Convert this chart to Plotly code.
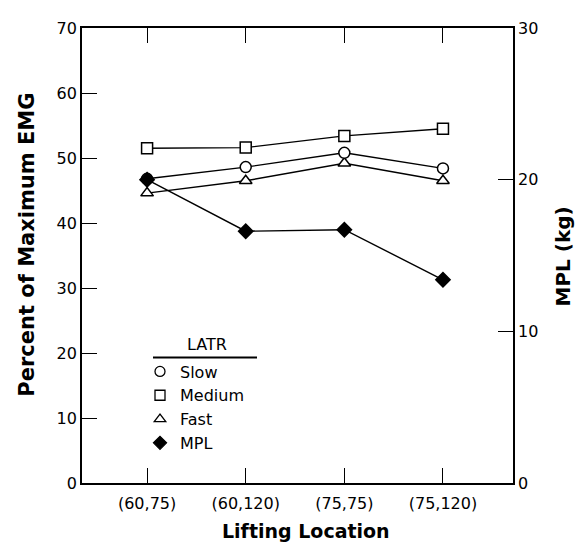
import plotly.graph_objects as go

locations = ["(60,75)", "(60,120)", "(75,75)", "(75,120)"]
slow = [46.8, 48.6, 50.8, 48.4]
medium = [51.5, 51.6, 53.4, 54.5]
fast = [44.6, 46.5, 49.2, 46.5]
mpl = [20.0, 16.6, 16.7, 13.4]

FONT = "DejaVu Sans"
OFF = 8  # page body margin
W, H = 585 - OFF, 546 - OFF
L, T = 82 - OFF, 19 - OFF
R = W - (513 - OFF)
B = H - (483 - OFF)
pw, ph = W - L - R, H - T - B


def px(x):
    return (x - 82) / pw


def py(y):
    return (483 - y) / ph


fig = go.Figure()


def add(y, sym, fill, name, axis="y"):
    fig.add_trace(go.Scatter(
        x=locations, y=y, mode="lines+markers", yaxis=axis, showlegend=False,
        line=dict(color="black", width=1.4),
        marker=dict(symbol=sym, size=11, color=fill, line=dict(color="black", width=1.5)),
        name=name))


add(mpl, "diamond", "black", "MPL", "y2")
add(fast, "triangle-up", "white", "Fast")
add(slow, "circle", "white", "Slow")
add(medium, "square", "white", "Medium")

for name, sym, fill in [("Slow", "circle", "white"), ("Medium", "square", "white"),
                        ("Fast", "triangle-up", "white"), ("MPL", "diamond", "black")]:
    fig.add_trace(go.Scatter(
        x=[None], y=[None], mode="markers", name=name, showlegend=True,
        marker=dict(symbol=sym, size=10, color=fill, line=dict(color="black", width=1.3))))

axis_common = dict(showline=True, linecolor="black", linewidth=1.8, ticks="inside",
                   ticklen=15, tickwidth=1.3, tickcolor="black", showgrid=False,
                   zeroline=False, tickfont=dict(family=FONT, size=16, color="black"))

fig.update_layout(
    width=W, height=H, margin=dict(l=L, r=R, t=T, b=B),
    paper_bgcolor="white", plot_bgcolor="white",
    xaxis=dict(type="category", categoryarray=locations, range=[-0.66, 3.71],
               mirror="ticks", ticklabelstandoff=5, **axis_common),
    yaxis=dict(range=[0, 70], tickvals=[0, 10, 20, 30, 40, 50, 60, 70], **axis_common),
    yaxis2=dict(range=[0, 30], tickvals=[0, 10, 20, 30], overlaying="y", side="right",
                **axis_common),
    legend=dict(x=px(140), y=py(352), xanchor="left", yanchor="top",
                bgcolor="rgba(0,0,0,0)", font=dict(family=FONT, size=16, color="black"),
                tracegroupgap=0, itemwidth=30),
    showlegend=True,
)

fig.add_shape(type="line", xref="paper", yref="paper",
              x0=px(153), x1=px(257), y0=py(355), y1=py(355),
              line=dict(color="black", width=1.8))

fig.add_annotation(text="LATR", xref="paper", yref="paper",
                   x=px(207), y=py(342), showarrow=False,
                   xanchor="center", yanchor="middle",
                   font=dict(family=FONT, size=16, color="black"))
fig.add_annotation(text="<b>Percent of Maximum EMG</b>", xref="paper", yref="paper",
                   x=px(27), y=py(240), textangle=-90, showarrow=False,
                   xanchor="center", yanchor="middle",
                   font=dict(family=FONT, size=21, color="black"))
fig.add_annotation(text="<b>Lifting Location</b>", xref="paper", yref="paper",
                   x=px(306), y=py(532), showarrow=False,
                   xanchor="center", yanchor="middle",
                   font=dict(family=FONT, size=19, color="black"))
fig.add_annotation(text="<b>MPL (kg)</b>", xref="paper", yref="paper",
                   x=px(563), y=py(252), textangle=-90, showarrow=False,
                   xanchor="center", yanchor="middle",
                   font=dict(family=FONT, size=20, color="black"))

fig.write_html("out.html")
